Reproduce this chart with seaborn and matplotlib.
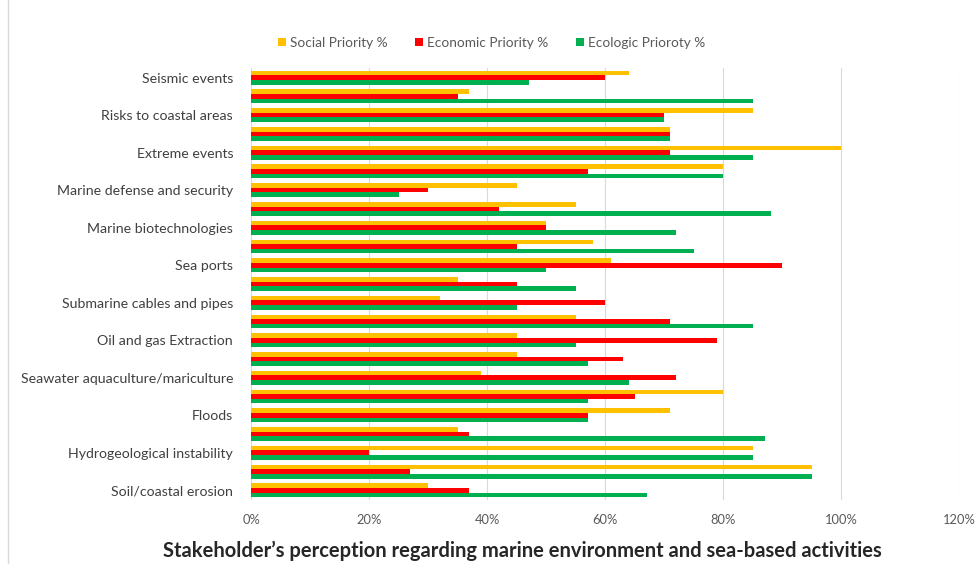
import numpy as np
import matplotlib
matplotlib.use('Agg')
import matplotlib.pyplot as plt
import matplotlib.ticker as mtick
import pandas as pd
import seaborn as sns

## datos (de arriba hacia abajo)
categorias = ['Seismic events', 'Sea level rise',
              'Risks to coastal areas', 'Marine pollution',
              'Extreme events', 'Storm surges',
              'Marine defense and security', 'Marine renewable energy',
              'Marine biotechnologies', 'Coastal tourism',
              'Sea ports', 'Maritime transport',
              'Submarine cables and pipes', 'Fisheries',
              'Oil and gas Extraction', 'Seabed mining',
              'Seawater aquaculture/mariculture', 'Desalination',
              'Floods', 'Marine litter',
              'Hydrogeological instability', 'Habitat loss',
              'Soil/coastal erosion']

social = [64, 37, 85, 71, 100, 80, 45, 55, 50, 58, 61, 35, 32, 55, 45, 45, 39, 80, 71, 35, 85, 95, 30]
economic = [60, 35, 70, 71, 71, 57, 30, 42, 50, 45, 90, 45, 60, 71, 79, 63, 72, 65, 57, 37, 20, 27, 37]
ecologic = [47, 85, 70, 71, 85, 80, 25, 88, 72, 75, 50, 55, 45, 85, 55, 57, 64, 57, 57, 87, 85, 95, 67]

series = ['Social Priority %', 'Economic Priority %', 'Ecologic Prioroty %']
colores = ['#FFC000', '#FF0000', '#00B050']

df = pd.DataFrame({
    'cat': categorias * 3,
    'val': np.array(social + economic + ecologic) / 100.0,
    'serie': [series[0]] * len(categorias) + [series[1]] * len(categorias) + [series[2]] * len(categorias),
})

sns.set_style('white')
plt.rcParams['font.family'] = ['Lato', 'DejaVu Sans']

fig = plt.figure(figsize=(9.77, 5.64), dpi=100)
ax = fig.add_axes([0.257, 0.114, 0.725, 0.765])

sns.barplot(data=df, y='cat', x='val', hue='serie', order=categorias, hue_order=series,
            palette=colores, orient='h', width=0.74, dodge=True, ax=ax, errorbar=None,
            linewidth=0, saturation=1)

ax.set_xlim(0, 1.2)
ax.set_xticks(np.arange(0, 1.21, 0.2))
ax.xaxis.set_major_formatter(mtick.PercentFormatter(1.0, decimals=0))
ax.grid(axis='x', color='#D9D9D9', lw=0.8)
ax.set_axisbelow(True)
for s in ax.spines.values():
    s.set_visible(False)

# como excel: solo una etiqueta de cada dos
etiquetas = [c if i % 2 == 0 else '' for i, c in enumerate(categorias)]
ax.set_yticks(range(len(categorias)))
ax.set_yticklabels(etiquetas, fontsize=10.2, color='#404040')
ax.tick_params(axis='y', length=0, pad=13)
ax.tick_params(axis='x', length=0, labelsize=9.3, labelcolor='#595959', pad=10)
ax.set_xlabel('')
ax.set_ylabel('')

ax.legend(loc='center', bbox_to_anchor=(0.503, 0.924), bbox_transform=fig.transFigure,
          ncol=3, frameon=False, fontsize=9.8, labelcolor='#595959',
          handlelength=0.6, handleheight=0.6, handletextpad=0.3, columnspacing=2.0)

fig.text(0.535, 0.006, 'Stakeholder\u2019s perception regarding marine environment and sea-based activities',
         ha='center', va='bottom', fontsize=14.5, weight='bold', color='#262626')

# borde del area del grafico
fig.add_artist(plt.Line2D([0.008, 0.008], [0.0, 1.0], color='#D9D9D9', lw=1))

fig.savefig('out.png', dpi=100)
